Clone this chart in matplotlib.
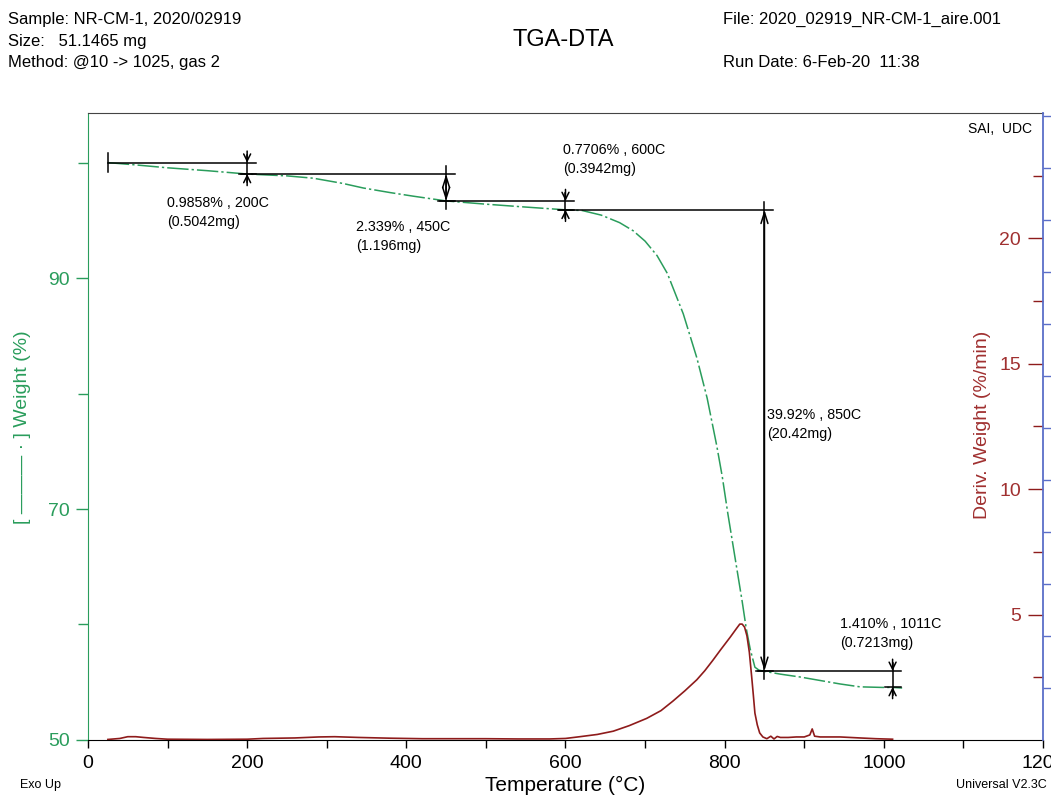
import matplotlib
matplotlib.use('Agg')
import matplotlib.pyplot as plt
import numpy as np

plt.rcParams['font.family'] = ['Liberation Sans', 'DejaVu Sans']

# TGA weight curve
temp_tga = [25, 60, 100, 150, 200, 250, 283, 320, 346, 380, 408, 450, 500, 550,
            600, 621, 645, 668, 685, 700, 715, 728, 748, 765, 778, 790, 797, 804,
            813, 822, 827, 832, 838, 843, 848, 870, 895, 920, 945, 970, 998, 1011, 1023]
weight_tga = [100.0, 99.8, 99.55, 99.3, 99.01, 98.85, 98.65, 98.2, 97.8, 97.4, 97.1,
              96.68, 96.4, 96.15, 95.91, 95.85, 95.45, 94.8, 94.1, 93.2, 91.95, 90.4,
              86.9, 83.1, 79.6, 75.5, 72.8, 69.6, 65.8, 62.0, 59.7, 57.9,
              56.3, 56.05, 55.97, 55.7, 55.45, 55.15, 54.85, 54.6, 54.55, 54.55, 54.5]

# derivative weight curve
temp_dtg = [25, 40, 50, 60, 70, 85, 100, 150, 200, 220, 260, 290, 310, 340, 380, 420,
            460, 500, 540, 580, 600, 618, 640, 660, 680, 702, 720, 735, 750, 765, 775,
            785, 795, 807, 815, 819, 822, 825, 828, 831, 834, 836, 838, 841, 844, 848,
            853, 858, 862, 866, 870, 880, 890, 900, 907, 910, 913, 920, 945, 970, 990, 1011]
deriv_dtg = [0.02, 0.06, 0.13, 0.13, 0.1, 0.06, 0.03, 0.02, 0.03, 0.06, 0.08, 0.12,
             0.13, 0.1, 0.07, 0.05, 0.05, 0.05, 0.04, 0.04, 0.06, 0.13, 0.22, 0.35,
             0.57, 0.86, 1.17, 1.55, 1.96, 2.4, 2.76, 3.17, 3.6, 4.1, 4.45, 4.62, 4.62,
             4.5, 4.15, 3.5, 2.5, 1.8, 1.07, 0.6, 0.28, 0.12, 0.05, 0.15, 0.04, 0.14,
             0.1, 0.1, 0.12, 0.12, 0.2, 0.44, 0.15, 0.12, 0.12, 0.08, 0.05, 0.03]

# weight-step analysis points
step_temps = [25, 200, 450, 600, 850, 1011]
step_weights = [100.0, 99.01, 96.68, 95.91, 55.99, 54.58]
step_labels = ["0.9858% , 200C\n(0.5042mg)",
               "2.339% , 450C\n(1.196mg)",
               "0.7706% , 600C\n(0.3942mg)",
               "39.92% , 850C\n(20.42mg)",
               "1.410% , 1011C\n(0.7213mg)"]

green = '#2a9d5c'
red = '#8e1b1b'
red_txt = '#a03030'
blue = '#5a6ec8'
narrow = ['Liberation Sans Narrow', 'Liberation Sans']

fig = plt.figure(figsize=(10.51, 7.96), dpi=100)
ax = fig.add_axes([0.0837, 0.0704, 0.9087, 0.7877])
ax2 = ax.twinx()
ax3 = ax.twinx()

ax.set_xlim(0, 1200)
ax.set_ylim(50, 104.3)
ax2.set_ylim(0, 25)
ax3.set_ylim(0, 12.06)

ax.plot(temp_tga, weight_tga, color=green, lw=1.1, dashes=(14, 2, 1.5, 2))
ax2.plot(temp_dtg, deriv_dtg, color=red, lw=1.2)

# step lines and arrows
for i in range(len(step_temps) - 1):
    t0, w0 = step_temps[i], step_weights[i]
    t1, w1 = step_temps[i + 1], step_weights[i + 1]
    start = t0 if i == 0 else t0 - 8
    ax.plot([start, t1 + 11], [w0, w0], color='black', lw=1.1)
    ax.plot([t1 - 10, t1 + 11], [w1, w1], color='black', lw=1.1)
    gap = w0 - w1
    ax.plot([t1, t1], [w0 + 0.7, w1 - 0.7], color='black', lw=1.1)
    if gap > 2:
        ax.annotate('', xy=(t1, w1), xytext=(t1, w0),
                    arrowprops=dict(arrowstyle='<->,head_length=0.8,head_width=0.25',
                                    color='black', lw=1.1, shrinkA=0, shrinkB=0))
    else:
        ax.annotate('', xy=(t1, w0), xytext=(t1, w0 + 1.0),
                    arrowprops=dict(arrowstyle='->,head_length=0.5,head_width=0.25',
                                    color='black', lw=1.1, shrinkA=0, shrinkB=0))
        ax.annotate('', xy=(t1, w1), xytext=(t1, w1 - 1.0),
                    arrowprops=dict(arrowstyle='->,head_length=0.5,head_width=0.25',
                                    color='black', lw=1.1, shrinkA=0, shrinkB=0))
ax.plot([step_temps[0], step_temps[0]], [step_weights[0] - 0.8, step_weights[0] + 0.8],
        color='black', lw=1.1)

label_xy = [(99, 95.71), (337, 93.64), (597, 100.26), (853, 77.36), (945, 59.18)]
for (x, y), txt in zip(label_xy, step_labels):
    ax.text(x, y, txt, fontsize=10.3, va='center', ha='left', linespacing=1.45)

# axes styling
ax.spines['right'].set_visible(False)
ax.spines['left'].set_color(green)
ax.spines['top'].set_color('#444444')
ax.spines['bottom'].set_color('black')
for s in ax2.spines.values():
    s.set_visible(False)
for s in ['left', 'top', 'bottom']:
    ax3.spines[s].set_visible(False)
ax3.spines['right'].set_color(blue)
ax3.spines['right'].set_linewidth(1.3)

ax.set_xticks(range(0, 1201, 200))
ax.set_xticks(range(100, 1200, 200), minor=True)
ax.tick_params(axis='x', which='both', direction='out', length=6, width=1,
               colors='black', pad=5)
ax.set_yticks([50, 70, 90])
ax.set_yticks([60, 80, 100], minor=True)
ax.tick_params(axis='y', which='major', direction='out', length=9, width=1,
               colors=green, pad=4)
ax.tick_params(axis='y', which='minor', direction='out', length=7, width=1, colors=green)
for lab in ax.get_xticklabels() + ax.get_yticklabels():
    lab.set_family(narrow)
    lab.set_fontsize(14)

ax2.set_yticks([5, 10, 15, 20])
ax2.set_yticks([2.5, 7.5, 12.5, 17.5, 22.5], minor=True)
ax2.tick_params(axis='y', which='major', direction='in', length=11, width=1,
                colors=red, pad=-16)
ax2.tick_params(axis='y', which='minor', direction='in', length=7, width=1, colors=red)
for lab in ax2.get_yticklabels():
    lab.set_family(narrow)
    lab.set_fontsize(14)
    lab.set_horizontalalignment('right')
    lab.set_color(red_txt)

ax3.set_yticks(np.arange(1, 13))
ax3.set_yticklabels([])
ax3.tick_params(axis='y', direction='out', length=7, width=1, colors=blue)

# labels
ax.set_xlabel('Temperature (°C)', fontsize=15, labelpad=3)
fig.text(0.021, 0.463, '[ ——— · ] Weight (%)', rotation=90, color=green,
         fontsize=14, ha='center', va='center')
fig.text(0.935, 0.466, 'Deriv. Weight (%/min)', rotation=90, color=red_txt,
         fontsize=14, ha='center', va='center')
ax.text(0.988, 0.975, 'SAI,  UDC', transform=ax.transAxes, fontsize=10,
        ha='right', va='center')

# header
fig.text(0.008, 0.975, 'Sample: NR-CM-1, 2020/02919', fontsize=12, va='center')
fig.text(0.008, 0.948, 'Size:   51.1465 mg', fontsize=12, va='center')
fig.text(0.008, 0.922, 'Method: @10 -> 1025, gas 2', fontsize=12, va='center')
fig.text(0.688, 0.975, 'File: 2020_02919_NR-CM-1_aire.001', fontsize=12, va='center')
fig.text(0.688, 0.922, 'Run Date: 6-Feb-20  11:38', fontsize=12, va='center')
fig.text(0.536, 0.950, 'TGA-DTA', fontsize=17, ha='center', va='center')
fig.text(0.019, 0.014, 'Exo Up', fontsize=9, va='center', family=narrow)
fig.text(0.996, 0.014, 'Universal V2.3C', fontsize=9, va='center', ha='right',
         family=narrow)

fig.savefig('out.png', dpi=100)
